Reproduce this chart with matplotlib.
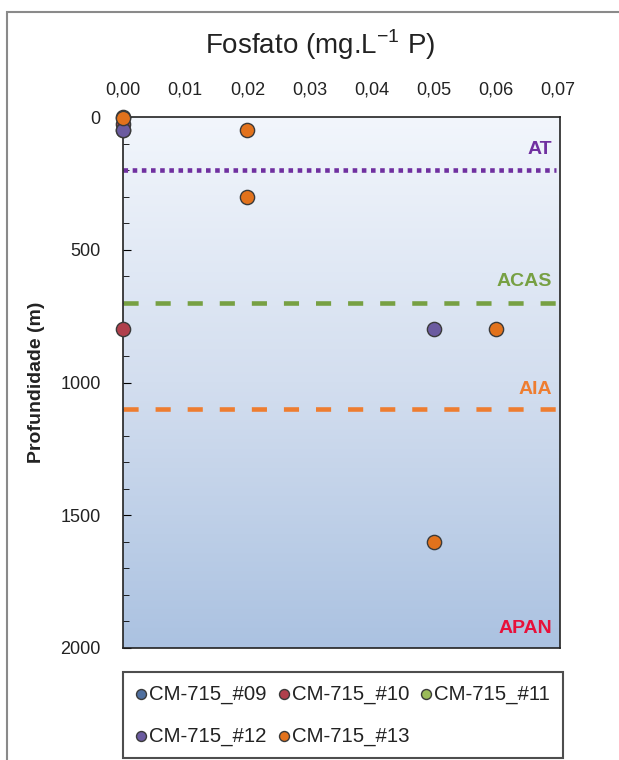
import numpy as np
import matplotlib
matplotlib.use("Agg")
import matplotlib.pyplot as plt
from matplotlib.colors import LinearSegmentedColormap
from matplotlib.patches import Rectangle

plt.rcParams['font.family'] = ['Liberation Sans', 'DejaVu Sans']

# data: phosphate (mg/L P) vs depth (m) per station
stations = ["CM-715_#09", "CM-715_#10", "CM-715_#11", "CM-715_#12", "CM-715_#13"]
colors = ["#4f6f9f", "#b0404c", "#9bbb59", "#6b5ba0", "#e2721c"]
fosfato = [
    [0.0],
    [0.0, 0.0],
    [0.0],
    [0.0, 0.05],
    [0.0, 0.02, 0.02, 0.06, 0.05],
]
profundidade = [
    [0],
    [25, 800],
    [50],
    [50, 800],
    [5, 50, 300, 800, 1600],
]

# water masses: name, boundary depth, label depth, colour, line style
massas = ["AT", "ACAS", "AIA", "APAN"]
massa_limite = [200, 700, 1100, None]
massa_rotulo = [124, 621, 1028, 1925]
massa_cor = ["#7030a0", "#77a043", "#ee7d30", "#e8103a"]
massa_estilo = [(0, (1, 1)), (0, (3.3, 3.7)), (0, (3.3, 3.7)), None]

xmax = 0.0703
ymax = 2000

fig = plt.figure(figsize=(6.19, 7.6), dpi=100)
ax = fig.add_axes([123/619, 1-648/760, 437/619, 531/760])

# outer frame
fig.patches.append(Rectangle((7/619, -0.1), 1.2, 1-12/760+0.1, transform=fig.transFigure,
                             fill=False, edgecolor="#8a8a8a", lw=1.5))

# background gradient
grad = np.linspace(0, 1, 256).reshape(-1, 1)
cmap = LinearSegmentedColormap.from_list("mar", ["#f2f6fc", "#d3deef", "#abc2e1"])
ax.imshow(grad, extent=(0, xmax, ymax, 0), origin="upper", aspect="auto", cmap=cmap, zorder=0)

for nome, lim, rot, cor, est in zip(massas, massa_limite, massa_rotulo, massa_cor, massa_estilo):
    if lim is not None:
        ax.plot([0, 0.0697], [lim, lim], color=cor, lw=3.3, linestyle=est, zorder=2)
    ax.text(0.982, rot, nome, color=cor, fontsize=14, fontweight="bold", ha="right", va="center",
            transform=ax.get_yaxis_transform(), zorder=3)

handles = []
for st, c, xs, ys in zip(stations, colors, fosfato, profundidade):
    h = ax.scatter(xs, ys, s=105, color=c, edgecolor="#3a3a3a", linewidth=1, label=st, zorder=4, clip_on=False)
    handles.append(h)

ax.set_xlim(0, xmax)
ax.set_ylim(ymax, 0)
ax.set_xticks(np.arange(0, 0.071, 0.01))
ax.set_xticklabels([f"{v:.2f}".replace(".", ",") for v in np.arange(0, 0.071, 0.01)])
ax.set_yticks([0, 500, 1000, 1500, 2000])
ax.set_yticks(np.arange(0, 2001, 100), minor=True)
ax.xaxis.tick_top()
ax.tick_params(axis="x", length=0, pad=13, labelsize=13, colors="#222222")
ax.tick_params(axis="y", which="major", direction="in", length=6, pad=16, labelsize=13, labelcolor="#222222")
ax.tick_params(axis="y", which="minor", direction="in", length=4)
for s in ax.spines.values():
    s.set_linewidth(1.2)
    s.set_color("#222222")

ax.set_ylabel("Profundidade (m)", fontsize=14, fontweight="bold", color="#222222")
ax.yaxis.set_label_coords(-0.178, 0.5)

fig.text(320/619, 1-45/760, "Fosfato (mg.L$^{\\mathregular{-1}}$ P)", fontsize=20, ha="center", va="center",
         color="#222222")

# legend filled row by row (matplotlib fills column by column)
ordem = [0, 3, 1, 4, 2]
leg = fig.legend([handles[i] for i in ordem], [stations[i] for i in ordem],
                 loc="upper left", bbox_to_anchor=(123/619, 1-672/760-0.01, 440/619, 0.01), mode="expand",
                 ncol=3, fontsize=14.7, markerscale=0.7, handlelength=0.5, handletextpad=0.15,
                 columnspacing=0.6, labelspacing=1.1, borderpad=0.62, borderaxespad=0,
                 fancybox=False, frameon=True, edgecolor="#222222")
leg.get_frame().set_linewidth(1.5)
for t in leg.get_texts():
    t.set_color("#222222")

fig.savefig("out.png", dpi=100)
